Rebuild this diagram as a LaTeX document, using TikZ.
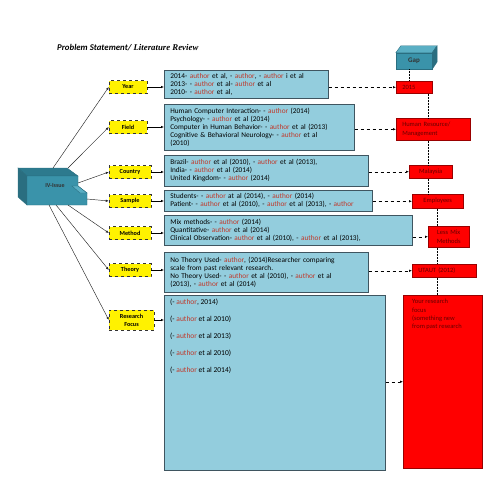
\documentclass[tikz,border=0pt]{standalone}
\usepackage{fontspec}
\setmainfont{Carlito}
\newfontfamily\titleserif{Liberation Serif}
\usetikzlibrary{arrows.meta}

\definecolor{litblue}{HTML}{93CDDD}
\definecolor{litedge}{HTML}{3F5560}
\definecolor{authred}{HTML}{C0392B}
\definecolor{gapred}{HTML}{FF0000}
\definecolor{gapedge}{HTML}{9A0000}
\definecolor{gaptext}{HTML}{660000}
\definecolor{cubefront}{HTML}{3A93AA}
\definecolor{cubetop}{HTML}{5AAFC4}
\definecolor{cubeside}{HTML}{2A6E80}
\definecolor{blocktop}{HTML}{2D7A8E}

\newcommand{\au}{\textcolor{authred}{author}}

\tikzset{
  topic/.style={draw=black!80, dashed, fill=yellow, minimum width=42pt, minimum height=13pt, inner sep=0pt, align=center, font=\fontsize{6.2}{7}\selectfont\bfseries},
  litbox/.style={draw=litedge, line width=0.6pt, fill=litblue, anchor=north west, inner xsep=6pt, inner ysep=0pt, align=left, font=\fontsize{7.3}{8}\selectfont},
  gapbox/.style={draw=gapedge, line width=0.5pt, fill=gapred, anchor=north west, inner xsep=6pt, inner ysep=0pt, align=left, text=gaptext, font=\fontsize{6.5}{8.3}\selectfont},
  feed/.style={-{Latex[length=3pt,width=2.4pt]}, line width=0.5pt},
  gapline/.style={dashed, -{Latex[length=3pt,width=2.4pt]}, line width=0.5pt},
  chainline/.style={densely dotted, line width=0.5pt},
  spoke/.style={-{Latex[length=3pt,width=2.4pt]}, line width=0.45pt, black!85},
}

\begin{document}
\begin{tikzpicture}[x=1pt,y=-1pt]
	\useasboundingbox (0,0) rectangle (495,495);

	\node[anchor=base west, inner sep=0pt, font=\fontsize{8.8}{10}\selectfont\bfseries\itshape] (title) at (57,51) {Problem Statement/ {\titleserif Literature Review}};

	% IV-Issue block
	\fill[blocktop, draw=cubeside] (18,168) -- (67,168) -- (78,176) -- (27,176) -- cycle;
	\fill[cubeside, draw=cubeside] (18,168) -- (27,176) -- (27,205) -- (18,197) -- cycle;
	\fill[cubefront, draw=cubeside] (27,176) -- (78,176) -- (78,186) -- (87,193) -- (87,205) -- (27,205) -- cycle;
	\fill[cubetop, draw=cubeside] (78,186) -- (87,193) -- (80,193) -- (72,186) -- cycle;
	\node[inner sep=0pt, font=\fontsize{6}{7}\selectfont\bfseries, text=black!80] (issue) at (55,186) {IV-Issue};
	\coordinate (iv1) at (53,168);
	\coordinate (iv2) at (68,168);
	\coordinate (iv3) at (78,183);
	\coordinate (iv4) at (87,199);
	\coordinate (iv5) at (68,205);
	\coordinate (iv6) at (56,205);
	\coordinate (iv7) at (49,205);

	% topics
	\node[topic, minimum width=38pt] (year) at (128,87) {Year};
	\node[topic, minimum width=38pt] (field) at (128,127) {Field};
	\node[topic] (country) at (130,172) {Country};
	\node[topic] (sample) at (130,201) {Sample};
	\node[topic] (method) at (130,233) {Method};
	\node[topic] (theory) at (130,270) {Theory};
	\node[topic, minimum width=45pt, minimum height=20pt] (focus) at (131.5,320) {Research\\[1pt]Focus};

	\draw[spoke] (iv1) -- (year.west);
	\draw[spoke] (iv2) -- (field.west);
	\draw[spoke] (iv3) -- (country.west);
	\draw[spoke] (iv4) -- (sample.west);
	\draw[spoke] (iv5) -- (method.west);
	\draw[spoke] (iv6) -- (theory.west);
	\draw[spoke] (iv7) -- (focus.west);

	% literature
	\node[litbox, text width=152pt, minimum height=28pt] (yearlit) at (164,70) {2014- \au{} et al, - \au, - \au{} i et al\\2013- - \au{} et al- \au{} et al\\2010- - \au{} et al,};
	\node[litbox, text width=178pt, minimum height=46pt] (fieldlit) at (164,104) {Human Computer  Interaction- - \au{} (2014)\\Psychology- - \au{} et al (2014)\\Computer  in Human Behavior- - \au{} et al (2013)\\Cognitive \& Behavioral Neurology- - \au{} et al\\(2010)};
	\node[litbox, text width=192pt, minimum height=31pt] (countrylit) at (164,155) {Brazil- \au{} et al (2010), - \au{} et al (2013),\\India- - \au{} et al (2014)\\United Kingdom- - \au{} (2014)};
	\node[litbox, text width=196pt, minimum height=21pt] (samplelit) at (164,190) {Students- - \au{} at al (2014), - \au{} (2014)\\Patient- - \au{} et al (2010), - \au{} et al (2013), - \au};
	\node[litbox, text width=236pt, minimum height=30pt] (methodlit) at (164,215) {Mix methods- - \au{} (2014)\\Quantitative- \au{} et al (2014)\\Clinical Observation- \au{} et al (2010), - \au{} et al (2013),};
	\node[litbox, text width=192pt, minimum height=40pt] (theorylit) at (164,252) {No Theory Used- \au, (2014)Researcher comparing\\scale from past relevant research.\\No Theory Used- - \au{} et al (2010), - \au{} et al\\(2013), - \au{} et al (2014)};
	\node[litbox, minimum width=221pt, minimum height=175pt] (focuslit) at (164,295) {};
	\node[anchor=north west, inner sep=0pt, align=left, font=\fontsize{7.5}{17}\selectfont] (focustxt) at ([shift={(6,4)}]focuslit.north west) {(- \au, 2014)\\(- \au{} et al 2010)\\(- \au{} et al 2013)\\(- \au{} et al 2010)\\(- \au{} et al 2014)};

	\draw[feed] (year.east) -- (year.east -| yearlit.west);
	\draw[feed] (field.east) -- (field.east -| fieldlit.west);
	\draw[feed] (country.east) -- (country.east -| countrylit.west);
	\draw[feed] (sample.east) -- (sample.east -| samplelit.west);
	\draw[feed] (method.east) -- (method.east -| methodlit.west);
	\draw[feed] (theory.east) -- (theory.east -| theorylit.west);
	\draw[feed] (focus.east) -- (focus.east -| focuslit.west);

	% gaps
	\node[draw=cubeside, fill=cubefront, minimum width=36pt, minimum height=16pt, inner sep=0pt, font=\fontsize{7}{8}\selectfont\bfseries, text=black!80] (gap) at (414,61) {Gap};
	\fill[cubetop, draw=cubeside] (gap.north west) -- ++(5,-7) -- ++(36,0) -- (gap.north east) -- cycle;
	\fill[cubeside, draw=cubeside] (gap.north east) -- ++(5,-7) -- ++(0,16) -- (gap.south east) -- cycle;

	\node[gapbox, text width=24pt, minimum height=12pt] (y2015) at (396,81) {2015};
	\node[gapbox, text width=62pt, minimum height=22pt] (hrm) at (396,118) {Human Resource/\\Management};
	\node[gapbox, text width=31pt, minimum height=13pt, align=center] (malaysia) at (409,165) {Malaysia};
	\node[gapbox, text width=39pt, minimum height=14pt, align=center] (employees) at (412,194) {Employees};
	\node[gapbox, text width=29pt, minimum height=21pt, align=center] (lessmix) at (428,226) {Less Mix\\Methods};
	\node[gapbox, text width=52pt, minimum height=13pt] (utaut) at (412,264) {UTAUT (2012)};
	\node[gapbox, minimum width=79pt, minimum height=173pt] (yourfocus) at (403,295) {};
	\node[anchor=north west, inner sep=0pt, align=left, text=gaptext, font=\fontsize{6.5}{8.3}\selectfont] (yourtxt) at ([shift={(9,4)}]yourfocus.north west) {Your research\\focus\\(something new\\from past research};

	\draw[gapline] (yearlit.east |- y2015.west) -- (y2015.west);
	\draw[gapline] (fieldlit.east |- hrm.west) -- (hrm.west);
	\draw[gapline] (countrylit.east |- malaysia.west) -- (malaysia.west);
	\draw[gapline] (samplelit.east |- employees.west) -- (employees.west);
	\draw[gapline] (methodlit.east |- lessmix.west) -- (lessmix.west);
	\draw[gapline] (theorylit.east |- utaut.west) -- (utaut.west);
	\draw[gapline] (focuslit.east |- yourfocus.west) -- (yourfocus.west);

	\draw[chainline] ([xshift=-5pt]gap.south) -- ([xshift=-5pt]gap.south |- y2015.north);
	\draw[chainline] (428,0 |- y2015.south) -- (428,0 |- hrm.north);
	\draw[chainline] (428,0 |- hrm.south) -- (428,0 |- malaysia.north);
	\draw[chainline] (428,0 |- malaysia.south) -- (428,0 |- employees.north);
	\draw[chainline] (437,0 |- employees.south) -- (437,0 |- lessmix.north);
	\draw[chainline] (437,0 |- lessmix.south) -- (437,0 |- utaut.north);
	\draw[chainline] (437,0 |- utaut.south) -- (437,0 |- yourfocus.north);
\end{tikzpicture}
\end{document}
